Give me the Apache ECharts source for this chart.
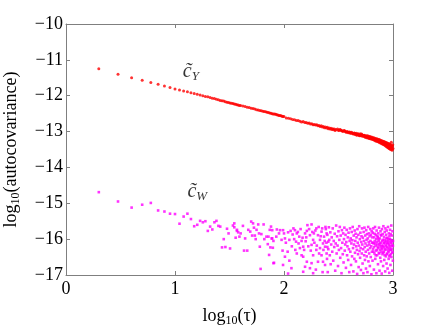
<!DOCTYPE html>
<html>
<head>
<meta charset="utf-8">
<script src="https://cdn.jsdelivr.net/npm/echarts@6/dist/echarts.min.js"></script>
<style>
  html, body { margin: 0; padding: 0; background: #fff; }
  #chart { width: 434px; height: 326px; }
</style>
</head>
<body>
<div id="chart"></div>
<script>
// tau lags shown on a log10 axis, values are log10(autocovariance)
const yTicks = [-17, -16, -15, -14, -13, -12, -11, -10];
const xTicks = [0, 1, 2, 3];

// c~_Y : [tau, log10 value]
const cY = [
  [2,-11.25],[3,-11.40],[4,-11.50],[5,-11.57],[6,-11.63],[7,-11.68],[8,-11.73],[9,-11.77],[10,-11.81],
  [11,-11.84],[12,-11.87],[13,-11.89],[14,-11.92],[15,-11.94],[16,-11.96],[17,-11.98],[18,-12.00],
  [19,-12.02],[20,-12.03],[21,-12.05],[22,-12.07],[23,-12.08],[24,-12.10],[25,-12.11],[26,-12.13],
  [27,-12.14],[28,-12.15],[29,-12.17],[30,-12.18],[31,-12.19],[32,-12.20],[33,-12.21],[34,-12.22],
  [35,-12.23],[36,-12.24],[37,-12.25],[38,-12.26],[39,-12.27],[40,-12.27],
  [42,-12.29],[44,-12.30],[46,-12.32],[48,-12.33],[50,-12.35],[52,-12.36],[54,-12.37],[56,-12.39],
  [58,-12.40],[60,-12.41],[62,-12.42],[64,-12.43],[66,-12.44],[68,-12.45],[70,-12.46],[72,-12.47],
  [74,-12.48],[76,-12.49],[78,-12.50],[80,-12.51],[82,-12.51],[84,-12.52],[86,-12.53],[88,-12.54],
  [90,-12.55],[92,-12.55],[94,-12.56],[96,-12.57],[98,-12.58],[100,-12.58],
  [105,-12.62],[110,-12.63],[115,-12.64],[120,-12.66],[125,-12.67],[130,-12.69],[135,-12.69],
  [140,-12.71],[145,-12.73],[150,-12.72],[155,-12.75],[160,-12.75],[165,-12.77],[170,-12.76],
  [175,-12.79],[180,-12.78],[185,-12.81],[190,-12.80],[195,-12.82],[200,-12.81],[205,-12.84],
  [210,-12.83],[215,-12.86],[220,-12.84],[225,-12.87],[230,-12.86],[235,-12.89],[240,-12.87],
  [245,-12.90],[250,-12.88],[255,-12.92],[260,-12.90],[265,-12.93],[270,-12.91],[275,-12.94],
  [280,-12.92],[285,-12.95],[290,-12.93],[295,-12.97],[300,-12.94],
  [310,-12.93],[320,-12.97],[330,-12.95],[340,-12.98],[350,-12.99],[360,-12.98],[370,-13.01],
  [380,-13.00],[390,-13.03],[400,-13.01],[410,-13.05],[420,-13.03],[430,-13.06],[440,-13.04],
  [450,-13.08],[460,-13.05],[470,-13.09],[480,-13.07],[490,-13.11],[500,-13.06],[510,-13.12],
  [520,-13.09],[530,-13.10],[540,-13.14],[550,-13.11],[560,-13.16],[570,-13.12],[580,-13.15],
  [590,-13.18],[600,-13.13],[610,-13.17],[620,-13.20],[630,-13.15],[640,-13.19],[650,-13.22],
  [660,-13.17],[670,-13.21],[680,-13.25],[690,-13.19],[700,-13.23],[710,-13.27],[720,-13.21],
  [730,-13.26],[740,-13.29],[750,-13.22],[760,-13.28],[770,-13.31],[780,-13.25],[790,-13.30],
  [800,-13.34],[810,-13.27],[820,-13.33],[830,-13.37],[840,-13.29],[850,-13.35],[860,-13.40],
  [870,-13.31],[880,-13.38],[890,-13.44],[900,-13.33],[910,-13.41],[920,-13.47],[930,-13.35],
  [940,-13.44],[950,-13.50],[960,-13.38],[970,-13.46],[980,-13.52],[990,-13.40],[1000,-13.47],
  [315,-12.96],[325,-12.94],[335,-12.97],[345,-12.99],[355,-12.97],[365,-13.00],[375,-13.02],
  [385,-13.01],[395,-13.02],[405,-13.04],[415,-13.02],[425,-13.05],[435,-13.07],[445,-13.05],
  [455,-13.07],[465,-13.10],[475,-13.06],[485,-13.09],[495,-13.12],[505,-13.09],[515,-13.07],
  [525,-13.13],[535,-13.11],[545,-13.10],[555,-13.15],[565,-13.13],[575,-13.17],[585,-13.12],
  [595,-13.16],[605,-13.19],[615,-13.14],[625,-13.18],[635,-13.21],[645,-13.16],[655,-13.20],
  [665,-13.23],[675,-13.18],[685,-13.22],[695,-13.26],[705,-13.20],[715,-13.24],[725,-13.28],
  [735,-13.22],[745,-13.27],[755,-13.31],[765,-13.24],[775,-13.29],[785,-13.34],[795,-13.26],
  [805,-13.31],[815,-13.36],[825,-13.28],[835,-13.33],[845,-13.39],[855,-13.30],[865,-13.36],
  [875,-13.42],[885,-13.32],[895,-13.38],[905,-13.45],[915,-13.34],[925,-13.40],[935,-13.48],
  [945,-13.36],[955,-13.43],[965,-13.30],[975,-13.42],[985,-13.49],[995,-13.37]
];

// c~_W : [tau, log10 value], noisy; values below -17 fall outside the plot
const cW = [
  [2,-14.69],[3,-14.95],[4,-15.12],[5,-15.04],[6,-14.99],[7,-15.20],[8,-15.23],[9,-15.29],[10,-15.30],
  [11,-15.57],[12,-15.37],[13,-15.29],[14,-15.44],[15,-15.64],[16,-15.60],[17,-15.49],[18,-15.53],
  [19,-15.50],[20,-15.77],[21,-15.65],[22,-15.73],[23,-15.53],[24,-15.49],[25,-15.63],[26,-15.65],
  [27,-16.23],[28,-16.00],[29,-16.22],[30,-15.71],[31,-15.84],[32,-16.26],[34,-15.62],[35,-15.56],
  [35,-15.67],[36,-15.96],[37,-15.77],[37,-15.74],[38,-15.81],[39,-15.93],[40,-15.84],[42,-15.63],
  [43,-16.32],[44,-15.98],[46,-16.32],[47,-15.74],[49,-15.79],[50,-15.51],[51,-15.90],[52,-15.56],
  [53,-15.68],[54,-15.90],[55,-16.00],[56,-15.74],[58,-15.59],[59,-15.84],[60,-16.21],[61,-16.83],
  [62,-15.86],[65,-15.59],[66,-16.00],[69,-15.93],[71,-16.14],[72,-15.93],[73,-16.44],[74,-15.74],
  [75,-16.23],[78,-15.98],[80,-16.05],[81,-16.66],
  [76,-15.65],[78,-15.75],[77,-15.98],[79,-16.24],[86,-15.73],[90,-15.84],[92,-15.75],[98,-15.75],
  [100,-15.84],[85,-15.93],[95,-16.02],[102,-15.98],[97,-16.32],[108,-16.35],[102,-16.49],
  [109,-15.81],[115,-15.77],[120,-15.87],[126,-15.75],[131,-15.84],[124,-16.00],[129,-16.07],
  [138,-15.93],[145,-16.05],[140,-16.25],[150,-16.21],[131,-16.40],[145,-16.45],[150,-16.49],
  [156,-15.84],[162,-15.77],[164,-15.61],[173,-15.89],[179,-15.59],[185,-16.02],[179,-16.16],
  [188,-15.84],[198,-15.70],[205,-15.89],[214,-16.02],[221,-15.79],[228,-16.12],[233,-15.93],
  [246,-15.84],[255,-16.07],[198,-16.30],[214,-16.25],[238,-16.21],[185,-16.45],[221,-16.45],
  [246,-16.40],[162,-16.63],[179,-16.67],[205,-16.63],[228,-16.63],[80,-16.67],[98,-16.72],
  [117,-16.81],[156,-16.77],[173,-16.81],[109,-16.96],[185,-16.95],[150,-16.91],[238,-16.72],
  [104,-16.10],[112,-16.02],[118,-16.20],[122,-15.70],[127,-16.30],[134,-15.80],[136,-16.12],
  [142,-15.72],[148,-15.96],[153,-16.30],[158,-16.06],[160,-15.95],[167,-16.20],[170,-15.72],
  [176,-16.32],[182,-15.80],[190,-16.10],[194,-15.76],[200,-16.18],[208,-15.66],[210,-16.40],
  [217,-15.92],[224,-15.70],[230,-16.30],[236,-16.05],[240,-15.66],[250,-16.22],[112,-16.60],
  [196,-16.85],[226,-16.92],
  [242,-15.72],[245,-16.10],[248,-16.55],[250,-15.88],[252,-16.92],[255,-16.28],[258,-15.67],
  [260,-16.02],[263,-16.45],[266,-15.81],[268,-16.70],[271,-16.15],[274,-15.95],[277,-16.35],
  [280,-15.70],[283,-16.60],[286,-16.05],[289,-16.22],[292,-15.85],[295,-16.88],[298,-16.12],
  [301,-15.62],[304,-16.40],[307,-15.92],[310,-16.18],[313,-16.75],[316,-15.78],[319,-16.30],
  [322,-16.02],[325,-15.66],[328,-16.52],[331,-15.90],[334,-16.25],[337,-16.95],[340,-15.75],
  [343,-16.10],[346,-16.42],[349,-15.84],[352,-16.65],[355,-16.00],[358,-15.68],[361,-16.32],
  [364,-16.15],[367,-15.88],[370,-16.80],[373,-16.08],[376,-15.74],[379,-16.45],[382,-16.20],
  [385,-15.95],[388,-16.58],[391,-15.82],[394,-16.28],[397,-16.92],[400,-16.05],
  [403,-15.70],[406,-16.35],[409,-15.98],[412,-16.72],[415,-16.12],[418,-15.80],[421,-16.48],
  [424,-16.03],[427,-15.66],[430,-16.25],[433,-16.90],[436,-15.90],[439,-16.15],[442,-16.55],
  [445,-15.76],[448,-16.38],[451,-16.05],[454,-15.85],[457,-16.62],[460,-16.20],[463,-15.95],
  [466,-16.30],[469,-16.97],[472,-15.72],[475,-16.10],[478,-16.42],[481,-15.88],[484,-16.78],
  [487,-16.18],[490,-15.64],[493,-16.33],[496,-16.00],[499,-16.52],[502,-15.82],[505,-16.25],
  [508,-16.86],[511,-16.08],[514,-15.92],[517,-16.40],[520,-15.70],[523,-16.15],[526,-16.68],
  [529,-15.96],[532,-16.28],[535,-16.95],[538,-15.80],[541,-16.05],[544,-16.45],[547,-15.68],
  [550,-16.22],[553,-16.58],[556,-15.90],[559,-16.12],[562,-16.35],[565,-16.82],[568,-15.75],
  [571,-16.02],[574,-16.48],[577,-15.86],[580,-16.18],[583,-16.92],[586,-15.98],[589,-16.30],
  [592,-15.66],[595,-16.62],[598,-16.08],[601,-15.84],[604,-16.40],[607,-16.15],[610,-15.92],
  [613,-16.75],[616,-16.25],[619,-15.72],[622,-16.05],[625,-16.50],[628,-15.88],[631,-16.20],
  [634,-16.98],[637,-15.78],[640,-16.35],[643,-16.10],[646,-15.95],[649,-16.60],
  [652,-15.82],[656,-16.28],[660,-15.70],[664,-16.12],[668,-16.85],[672,-15.95],[676,-16.40],
  [680,-16.05],[684,-15.66],[688,-16.55],[692,-16.18],[696,-15.88],[700,-16.32],[704,-16.95],
  [708,-15.76],[712,-16.08],[716,-16.45],[720,-15.92],[724,-16.22],[728,-16.70],[732,-15.84],
  [736,-16.00],[740,-16.38],[744,-15.68],[748,-16.15],[752,-16.88],[756,-15.98],[760,-16.30],
  [764,-16.52],[768,-15.78],[772,-16.10],[776,-16.62],[780,-15.90],[784,-16.25],[788,-16.96],
  [792,-15.72],[796,-16.05],[800,-16.42],[804,-15.86],[808,-16.20],[812,-16.75],[816,-15.64],
  [820,-16.12],[824,-16.35],[828,-15.94],[832,-16.58],[836,-16.02],[840,-15.80],[844,-16.28],
  [848,-16.90],[852,-15.70],[856,-16.15],[860,-16.48],[864,-15.88],[868,-16.05],[872,-16.68],
  [876,-15.76],[880,-16.22],[884,-16.40],[888,-15.96],[892,-16.82],[896,-16.10],[900,-15.66],
  [904,-16.32],[908,-16.00],[912,-16.55],[916,-15.84],[920,-16.18],[924,-16.94],[928,-15.92],
  [932,-16.25],[936,-16.45],[940,-15.74],[944,-16.08],[948,-16.72],[952,-15.86],[956,-16.30],
  [960,-16.02],[964,-15.62],[968,-16.50],[972,-16.15],[976,-15.90],[980,-16.38],[984,-16.88],
  [988,-15.78],[992,-16.20],[996,-16.60],[1000,-16.05],
  [654,-16.10],[662,-16.35],[670,-16.22],[678,-15.85],[686,-16.12],[694,-16.45],[702,-16.00],
  [710,-16.30],[718,-16.15],[726,-15.95],[734,-16.25],[742,-16.05],[750,-16.40],[758,-16.12],
  [766,-16.20],[774,-15.88],[782,-16.35],[790,-16.18],[798,-16.28],[806,-16.02],[814,-16.38],
  [822,-16.22],[830,-16.10],[838,-16.45],[846,-16.08],[854,-16.30],[862,-16.20],[870,-15.98],
  [878,-16.42],[886,-16.12],[894,-16.26],[902,-16.05],[910,-16.36],[918,-16.14],[926,-16.48],
  [934,-16.00],[942,-16.30],[950,-16.20],[958,-16.42],[966,-16.10],[974,-16.28],[982,-16.06],
  [990,-16.35],[998,-16.18]
];

// text labels placed in data coordinates
const labelY = [14, -11.33];
const labelW = [16, -14.68];

const serif = "'Liberation Serif', 'DejaVu Serif', serif";
const boxColor = "#7f7f7f";

const chart = echarts.init(document.getElementById("chart"));

function axisCommon(showLabels) {
  return {
    axisLine: { show: true, onZero: false, lineStyle: { color: boxColor, width: 1 } },
    axisTick: { show: true, inside: true, length: 4, lineStyle: { color: boxColor } },
    axisLabel: { show: showLabels },
    splitLine: { show: false },
    minorTick: { show: false }
  };
}

const tickLabelStyle = { fontFamily: serif, fontSize: 18, color: "#000" };
const nameStyle = {
  fontFamily: serif, fontSize: 18, color: "#000",
  rich: { s: { fontFamily: serif, fontSize: 12, color: "#000", padding: [10, 0, 0, 0] } }
};

const xBase = {
  type: "log",
  logBase: 10,
  min: Math.pow(10, xTicks[0]),
  max: Math.pow(10, xTicks[xTicks.length - 1])
};
const yBase = {
  type: "value",
  min: yTicks[0],
  max: yTicks[yTicks.length - 1],
  interval: 1
};

function cTilde(sub) {
  return "{c|c\u0303}{s|" + sub + "}";
}
const annRich = {
  c: { fontFamily: serif, fontStyle: "italic", fontSize: 20, color: "#000" },
  s: { fontFamily: serif, fontStyle: "italic", fontSize: 13, color: "#000", padding: [10, 0, 0, 0] }
};

chart.setOption({
  animation: false,
  backgroundColor: "#fff",
  grid: { left: 66, top: 24, right: 41, bottom: 51, containLabel: false, outerBoundsMode: "none" },
  xAxis: [
    Object.assign({}, xBase, axisCommon(true), {
      position: "bottom",
      axisLabel: Object.assign({ show: true, margin: 5,
        formatter: v => String(Math.round(Math.log10(v))) }, tickLabelStyle),
      name: "log{s|10}(\u03c4)",
      nameLocation: "middle",
      nameGap: 30,
      nameTextStyle: nameStyle
    }),
    Object.assign({}, xBase, axisCommon(false), { position: "top" })
  ],
  yAxis: [
    Object.assign({}, yBase, axisCommon(true), {
      position: "left",
      axisLabel: Object.assign({ show: true, margin: 3,
        formatter: v => (v < 0 ? "\u2212" + Math.abs(v) : String(v)) }, tickLabelStyle),
      name: "log{s|10}(autocovariance)",
      nameLocation: "middle",
      nameRotate: 90,
      nameGap: 44,
      nameTextStyle: nameStyle
    }),
    Object.assign({}, yBase, axisCommon(false), { position: "right" })
  ],
  series: [
    {
      type: "scatter",
      data: cY,
      symbol: "circle",
      symbolSize: 3,
      itemStyle: { color: "#ff0000" },
      silent: true
    },
    {
      type: "scatter",
      data: cW,
      symbol: "rect",
      symbolSize: 2.6,
      itemStyle: { color: "#ff00ff" },
      silent: true
    },
    {
      type: "scatter",
      data: [labelY, labelW],
      symbolSize: 0,
      silent: true,
      label: {
        show: true,
        position: "inside",
        formatter: p => (p.dataIndex === 0 ? cTilde("Y") : cTilde("W")),
        rich: annRich
      }
    }
  ]
});
</script>
</body>
</html>
